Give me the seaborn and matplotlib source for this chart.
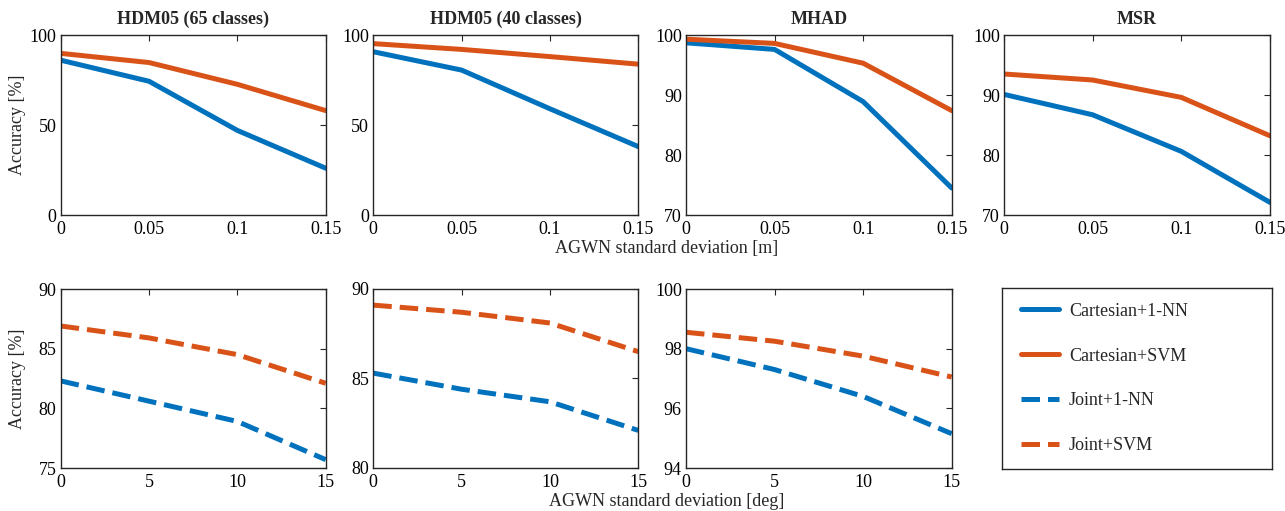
import numpy as np
import pandas as pd
import matplotlib
matplotlib.use("Agg")
import matplotlib.pyplot as plt
import seaborn as sns

# ---------------- data ----------------
noise_m = [0, 0.05, 0.1, 0.15]
noise_deg = [0, 5, 10, 15]

titles_top = ["HDM05 (65 classes)", "HDM05 (40 classes)", "MHAD", "MSR"]

# Cartesian + 1-NN (top row)
cart_nn = [
    [86.0, 74.3, 47.0, 26.0],
    [90.7, 80.5, 59.0, 38.0],
    [98.7, 97.6, 88.9, 74.5],
    [90.1, 86.7, 80.6, 72.1],
]
# Cartesian + SVM (top row)
cart_svm = [
    [89.8, 84.7, 72.6, 58.0],
    [95.2, 92.0, 88.0, 83.8],
    [99.3, 98.6, 95.3, 87.4],
    [93.5, 92.5, 89.6, 83.2],
]
# Joint + 1-NN (bottom row)
joint_nn = [
    [82.3, 80.6, 78.9, 75.7],
    [85.3, 84.4, 83.7, 82.1],
    [98.0, 97.3, 96.4, 95.15],
]
# Joint + SVM (bottom row)
joint_svm = [
    [86.9, 85.9, 84.5, 82.1],
    [89.1, 88.7, 88.1, 86.5],
    [98.55, 98.25, 97.75, 97.05],
]

yticks_top = [[0, 50, 100], [0, 50, 100], [70, 80, 90, 100], [70, 80, 90, 100]]
yticks_bot = [[75, 80, 85, 90], [80, 85, 90], [94, 96, 98, 100]]
xticklabels_top = ["0", "0.05", "0.1", "0.15"]
xticklabels_bot = ["0", "5", "10", "15"]

legend_labels = ["Cartesian+1-NN", "Cartesian+SVM", "Joint+1-NN", "Joint+SVM"]
xlabel_top = "AGWN standard deviation [m]"
xlabel_bot = "AGWN standard deviation [deg]"
ylabel = "Accuracy [%]"

BLUE = "#0072BD"
ORANGE = "#D95319"

# ---------------- style ----------------
sns.set_theme(style="white")
plt.rcParams["font.family"] = ["Liberation Serif", "DejaVu Serif"]
plt.rcParams["axes.edgecolor"] = "#262626"
plt.rcParams["axes.linewidth"] = 1.0
plt.rcParams["xtick.color"] = "#262626"
plt.rcParams["ytick.color"] = "#262626"

W, H = 1285, 511
fig = plt.figure(figsize=(W / 100, H / 100), dpi=100)


def px_axes(left, right, top, bottom):
    return fig.add_axes([left / W, 1 - bottom / H, (right - left) / W, (bottom - top) / H])


cols = [(60.7, 325.7), (373.3, 638.3), (686, 951.7), (1004, 1270)]
top_row = (35, 215)
bot_row = (289, 468)

LW = 3.6
FS = 13


def style_ax(ax, xt, xtl, yt):
    ax.set_xticks(xt)
    ax.set_xticklabels(xtl)
    ax.set_yticks(yt)
    ax.set_xlim(xt[0], xt[-1])
    ax.set_ylim(yt[0], yt[-1])
    ax.tick_params(direction="in", length=4, width=0.8, top=True, right=True,
                   labelsize=FS, pad=3, colors="#262626", labelcolor="black")
    ax.tick_params(axis="x", pad=4)
    for s in ax.spines.values():
        s.set_visible(True)
        s.set_color("#262626")
    ax.set_xlabel("")
    ax.set_ylabel("")


handles = []
for i in range(4):
    ax = px_axes(cols[i][0], cols[i][1], top_row[0], top_row[1])
    sns.lineplot(x=noise_m, y=cart_nn[i], ax=ax, color=BLUE, linewidth=LW, legend=False)
    sns.lineplot(x=noise_m, y=cart_svm[i], ax=ax, color=ORANGE, linewidth=LW, legend=False)
    style_ax(ax, noise_m, xticklabels_top, yticks_top[i])
    ax.set_title(titles_top[i], fontsize=FS, fontweight="bold", pad=8)
    if i == 0:
        ax.set_ylabel(ylabel, fontsize=FS)
        ax.yaxis.set_label_coords(-0.13, 0.5)
        handles += list(ax.get_lines()[:2])

for i in range(3):
    ax = px_axes(cols[i][0], cols[i][1], bot_row[0], bot_row[1])
    sns.lineplot(x=noise_deg, y=joint_nn[i], ax=ax, color=BLUE, linewidth=LW,
                 linestyle="--", legend=False)
    sns.lineplot(x=noise_deg, y=joint_svm[i], ax=ax, color=ORANGE, linewidth=LW,
                 linestyle="--", legend=False)
    style_ax(ax, noise_deg, xticklabels_bot, yticks_bot[i])
    if i == 0:
        ax.set_ylabel(ylabel, fontsize=FS)
        ax.yaxis.set_label_coords(-0.13, 0.5)
        handles += list(ax.get_lines()[:2])

# legend box
axl = px_axes(1002, 1272, 288, 469)
axl.set_xticks([])
axl.set_yticks([])
for s in axl.spines.values():
    s.set_visible(True)
    s.set_color("#262626")
axl.legend(handles=handles, labels=legend_labels, loc="center left",
           bbox_to_anchor=(0.0, 0.5), frameon=False, fontsize=13,
           handlelength=2.1, handletextpad=0.55, labelspacing=1.55,
           borderpad=0, borderaxespad=1.05)

fig.text(667 / W, 1 - 249 / H, xlabel_top, ha="center", va="center", fontsize=FS)
fig.text(667 / W, 1 - 501 / H, xlabel_bot, ha="center", va="center", fontsize=FS)

fig.savefig("out.png", dpi=100)
